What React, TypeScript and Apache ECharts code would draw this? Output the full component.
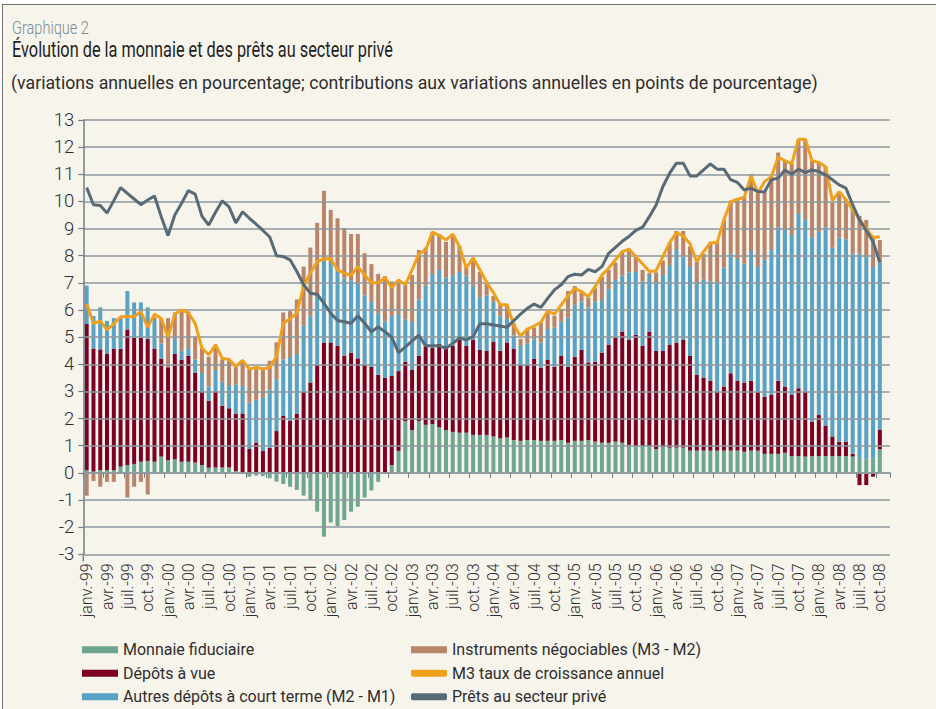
import React, { useEffect, useRef } from 'react';
import * as echarts from 'echarts';

// ---------- categories ----------
const MONTHS = ['janv.', 'févr.', 'mars', 'avr.', 'mai', 'juin', 'juil.', 'août', 'sept.', 'oct.', 'nov.', 'déc.'];
const YEARS = ['99', '00', '01', '02', '03', '04', '05', '06', '07', '08'];
const ALL_MONTHS: string[] = [];
YEARS.forEach((y) => MONTHS.forEach((m) => ALL_MONTHS.push(`${m}-${y}`)));
// janv.-99 .. nov.-08 (last slot left empty, as in the reference)
const CATEGORIES = ALL_MONTHS.slice(0, 119);

// ---------- series (contributions, percentage points) ----------
const MONNAIE_FIDUCIAIRE = [
  0.10, 0.05, 0.10, 0.10, 0.10, 0.23, 0.29, 0.33, 0.41, 0.44, 0.41, 0.60,
  0.47, 0.50, 0.41, 0.41, 0.38, 0.29, 0.19, 0.20, 0.20, 0.20, 0.07, 0.00,
  -0.14, -0.10, -0.12, -0.20, -0.32, -0.41, -0.51, -0.63, -0.84, -1.00, -1.43, -2.35,
  -1.83, -1.96, -1.74, -1.43, -1.25, -0.91, -0.65, -0.33, 0.00, 0.29, 0.81, 1.91,
  1.58, 1.91, 1.77, 1.80, 1.68, 1.58, 1.51, 1.48, 1.48, 1.40, 1.40, 1.40,
  1.34, 1.27, 1.31, 1.21, 1.18, 1.21, 1.21, 1.18, 1.18, 1.18, 1.21, 1.11,
  1.18, 1.18, 1.21, 1.15, 1.11, 1.11, 1.15, 1.11, 1.03, 0.99, 0.99, 0.99,
  0.88, 0.96, 0.93, 0.93, 0.93, 0.82, 0.82, 0.82, 0.82, 0.82, 0.82, 0.82,
  0.82, 0.78, 0.82, 0.82, 0.70, 0.70, 0.70, 0.74, 0.62, 0.62, 0.60, 0.62,
  0.62, 0.62, 0.62, 0.62, 0.62, 0.60, 0.51, 0.50, 0.54, 0.87,
];
const DEPOTS_A_VUE = [
  5.38, 4.53, 4.45, 4.30, 4.48, 4.34, 4.99, 4.65, 4.57, 4.49, 4.17, 3.61,
  3.42, 3.88, 3.75, 3.90, 3.30, 2.69, 2.47, 2.78, 2.27, 2.18, 2.10, 2.19,
  0.88, 1.12, 0.81, 0.92, 1.54, 2.10, 1.91, 2.17, 2.98, 3.33, 3.98, 4.80,
  4.80, 4.68, 4.31, 4.43, 4.22, 3.98, 3.90, 3.61, 3.51, 3.28, 2.94, 2.18,
  2.21, 2.40, 2.89, 2.80, 3.07, 3.10, 3.17, 3.42, 3.20, 3.50, 3.13, 3.09,
  3.48, 3.23, 3.49, 3.37, 2.80, 2.77, 2.99, 2.70, 2.98, 2.73, 3.10, 2.80,
  3.10, 3.35, 2.86, 2.94, 3.32, 3.60, 3.83, 4.09, 3.87, 4.09, 3.69, 4.21,
  3.61, 3.53, 3.78, 3.87, 3.97, 3.49, 2.79, 2.69, 2.57, 2.17, 2.36, 2.85,
  2.57, 2.55, 2.57, 2.17, 2.11, 2.17, 2.69, 2.44, 2.25, 2.50, 2.38, 1.27,
  1.51, 1.11, 0.72, 0.53, 0.53, 0.10, -0.45, -0.45, -0.14, 0.71,
];
const AUTRES_DEPOTS = [
  1.42, 1.20, 1.55, 1.20, 1.12, 1.10, 1.42, 1.30, 1.30, 1.17, 1.05, 0.56,
  0.00, 0.55, 0.34, 0.29, 0.50, 0.70, 0.52, 0.81, 0.89, 0.82, 1.09, 1.01,
  1.71, 1.57, 1.98, 2.16, 1.91, 2.08, 2.36, 2.21, 2.45, 2.46, 2.51, 3.02,
  2.97, 2.80, 2.85, 2.66, 2.74, 2.56, 2.40, 2.27, 2.07, 2.22, 2.10, 1.57,
  1.77, 2.08, 2.24, 2.72, 2.73, 2.51, 2.60, 2.50, 2.59, 1.99, 1.94, 2.04,
  1.49, 1.29, 0.87, 0.48, 0.70, 0.80, 0.72, 0.92, 1.14, 1.45, 1.26, 1.81,
  1.91, 1.78, 2.02, 2.22, 1.94, 2.07, 2.13, 2.07, 2.49, 2.32, 2.38, 2.09,
  2.50, 2.80, 2.95, 3.41, 3.07, 3.27, 3.38, 3.62, 3.67, 4.00, 4.38, 4.42,
  4.49, 4.37, 4.78, 4.59, 5.04, 5.34, 5.66, 5.77, 5.90, 6.44, 6.36, 6.79,
  6.75, 7.32, 6.96, 7.52, 7.46, 7.37, 7.56, 7.47, 7.04, 6.17,
];
const INSTRUMENTS_NEGOCIABLES = [
  -0.84, -0.30, -0.51, -0.33, -0.33, 0.05, -0.91, -0.51, -0.33, -0.80, 0.10, 0.92,
  1.81, 0.98, 1.53, 1.34, 0.84, 0.91, 1.10, 0.86, 0.82, 0.94, 0.68, 0.90,
  1.23, 1.13, 1.09, 1.05, 1.36, 1.73, 1.69, 2.01, 2.17, 2.51, 2.72, 2.57,
  1.92, 1.90, 1.86, 1.71, 1.84, 1.55, 1.39, 1.45, 1.67, 1.26, 1.15, 1.26,
  1.73, 1.82, 1.40, 1.55, 1.32, 1.32, 1.51, 0.96, 0.39, 1.01, 0.93, 0.46,
  0.21, 0.42, 0.52, 0.45, 0.26, 0.52, 0.43, 0.75, 0.64, 0.43, 0.47, 0.98,
  0.69, 0.33, 0.36, 0.49, 0.86, 0.70, 0.64, 0.85, 0.85, 0.57, 0.42, 0.07,
  0.40, 0.53, 0.82, 0.70, 0.94, 0.76, 0.79, 0.94, 1.38, 1.49, 1.76, 1.94,
  2.24, 2.50, 2.84, 2.72, 2.51, 2.70, 2.75, 2.55, 2.61, 2.73, 2.95, 2.82,
  2.55, 2.23, 1.66, 1.66, 1.47, 1.62, 1.40, 1.35, 1.12, 0.83,
];
const M3_CROISSANCE = [
  6.22, 5.50, 5.60, 5.27, 5.50, 5.75, 5.76, 5.76, 5.94, 5.37, 5.85, 5.69,
  5.00, 5.85, 6.00, 5.90, 5.50, 4.60, 4.35, 4.72, 4.22, 4.18, 3.92, 4.14,
  3.82, 3.89, 3.82, 3.89, 4.28, 5.51, 5.68, 5.88, 6.88, 7.36, 7.79, 7.88,
  7.90, 7.47, 7.36, 7.28, 7.60, 7.29, 7.00, 7.00, 7.19, 6.82, 7.11, 6.93,
  7.48, 8.07, 8.21, 8.87, 8.75, 8.58, 8.80, 8.33, 7.54, 7.93, 7.48, 7.02,
  6.64, 6.19, 6.19, 5.45, 5.04, 5.30, 5.41, 5.55, 5.96, 5.85, 6.19, 6.52,
  6.80, 6.68, 6.49, 6.86, 7.29, 7.54, 7.85, 8.15, 8.24, 7.97, 7.70, 7.42,
  7.45, 7.97, 8.48, 8.85, 8.73, 8.44, 7.78, 8.15, 8.48, 8.48, 9.32, 9.99,
  10.08, 10.15, 10.94, 10.30, 10.73, 10.91, 11.63, 11.50, 11.38, 12.29, 12.29, 11.50,
  11.44, 11.28, 10.03, 10.36, 10.06, 9.69, 9.34, 9.00, 8.67, 8.70,
];
const PRETS_SECTEUR_PRIVE = [
  10.51, 9.88, 9.85, 9.57, 10.03, 10.51, 10.30, 10.09, 9.88, 10.05, 10.20, 9.44,
  8.74, 9.50, 9.93, 10.40, 10.27, 9.46, 9.13, 9.60, 10.02, 9.80, 9.21, 9.62,
  9.38, 9.16, 8.93, 8.69, 8.00, 7.97, 7.85, 7.42, 6.93, 6.62, 6.58, 6.25,
  5.88, 5.61, 5.57, 5.51, 5.79, 5.51, 5.20, 5.37, 5.20, 5.00, 4.43, 4.63,
  4.86, 5.07, 4.68, 4.68, 4.68, 4.59, 4.77, 4.97, 4.90, 5.02, 5.49, 5.49,
  5.45, 5.41, 5.36, 5.61, 5.85, 6.06, 6.22, 6.10, 6.43, 6.74, 6.93, 7.23,
  7.32, 7.29, 7.50, 7.41, 7.60, 8.09, 8.31, 8.53, 8.71, 8.93, 9.05, 9.44,
  9.87, 10.55, 11.04, 11.41, 11.41, 10.94, 10.94, 11.16, 11.38, 11.19, 11.19, 10.80,
  10.70, 10.42, 10.49, 10.36, 10.36, 10.80, 10.86, 11.16, 11.00, 11.19, 11.06, 11.16,
  11.10, 10.98, 10.80, 10.61, 10.49, 9.87, 9.32, 8.93, 8.52, 7.75,
];

// ---------- texts ----------
const SURTITRE = 'Graphique 2';
const TITRE = 'Évolution de la monnaie et des prêts au secteur privé';
const SOUS_TITRE =
  '(variations annuelles en pourcentage; contributions aux variations annuelles en points de pourcentage)';
const NAMES = {
  fid: 'Monnaie fiduciaire',
  vue: 'Dépôts à vue',
  autres: 'Autres dépôts à court terme (M2 - M1)',
  instr: 'Instruments négociables (M3 - M2)',
  m3: 'M3 taux de croissance annuel',
  prets: 'Prêts au secteur privé',
};

// ---------- styles ----------
const FONT = 'Roboto, "Noto Sans", "DejaVu Sans", sans-serif';
const C_FID = '#6fa690';
const C_VUE = '#7c0024';
const C_AUTRES = '#58a2c6';
const C_INSTR = '#b8846a';
const C_M3 = '#efa01c';
const C_PRETS = '#586a76';
const C_GRID = '#8e999f';
const C_AXIS = '#6f7f89';
const C_TEXT = '#2e2e2e';

function fitScale(text: string, size: number, weight: string, target: number) {
  try {
    const ctx = document.createElement('canvas').getContext('2d');
    if (!ctx) return 1;
    ctx.font = `${weight} ${size}px Roboto`;
    const w = ctx.measureText(text).width;
    return w > 0 ? target / w : 1;
  } catch (e) {
    return 1;
  }
}

function buildOption() {
  const GRID_LEFT = 83.3;
  const GRID_TOP = 120;
  const GRID_W = 806.7;
  const GRID_H = 434.3;

  const barBase = {
    type: 'bar',
    stack: 'm3',
    barWidth: 4,
    xAxisIndex: 0,
    yAxisIndex: 0,
    z: 2,
  };

  const legendCommon = {
    orient: 'vertical',
    top: 638,
    padding: 0,
    itemGap: 0,
    itemWidth: 36,
    itemHeight: 7,
    selectedMode: false,
    textStyle: { fontFamily: FONT, fontSize: 16, fontWeight: 400, color: C_TEXT, lineHeight: 23.5 },
  };

  return {
    animation: false,
    backgroundColor: 'transparent',
    textStyle: { fontFamily: FONT },
    grid: { left: GRID_LEFT, top: GRID_TOP, width: GRID_W, height: GRID_H, containLabel: false },
    xAxis: [
      {
        type: 'category',
        data: CATEGORIES,
        position: 'bottom',
        boundaryGap: true,
        axisLine: { show: false, onZero: false },
        axisTick: { show: false },
        splitLine: { show: false },
        axisLabel: {
          interval: 2,
          rotate: 90,
          margin: 9,
          fontFamily: FONT,
          fontSize: 16,
          fontWeight: 300,
          color: C_TEXT,
        },
      },
      {
        type: 'category',
        data: CATEGORIES,
        position: 'bottom',
        boundaryGap: true,
        z: 3,
        axisLine: { show: true, onZero: true, lineStyle: { color: C_GRID, width: 1.5 } },
        axisTick: { show: true, interval: 2, length: 5, lineStyle: { color: C_AXIS, width: 1 } },
        axisLabel: { show: false },
        splitLine: { show: false },
      },
    ],
    yAxis: {
      type: 'value',
      min: -3,
      max: 13,
      interval: 1,
      z: 3,
      axisLine: { show: true, onZero: false, lineStyle: { color: C_AXIS, width: 1.5 } },
      axisTick: { show: true, length: 5, lineStyle: { color: C_AXIS, width: 1.2 } },
      axisLabel: { margin: 9, fontFamily: FONT, fontSize: 18.5, fontWeight: 300, color: C_TEXT },
      splitLine: { show: true, lineStyle: { color: C_GRID, width: 1.5 } },
    },
    legend: [
      {
        ...legendCommon,
        left: 82,
        data: [
          { name: NAMES.fid, icon: 'rect' },
          { name: NAMES.vue, icon: 'rect' },
          { name: NAMES.autres, icon: 'rect' },
        ],
      },
      {
        ...legendCommon,
        left: 411,
        data: [
          { name: NAMES.instr, icon: 'rect' },
          { name: NAMES.m3, icon: 'roundRect' },
          { name: NAMES.prets, icon: 'roundRect' },
        ],
      },
    ],
    graphic: [
      {
        type: 'text',
        x: 12,
        y: 28,
        scaleX: fitScale(SURTITRE, 17.5, '300', 77),
        z: 10,
        style: {
          text: SURTITRE,
          fontFamily: 'Roboto',
          fontSize: 17.5,
          fontWeight: 300,
          fill: '#7a8c98',
          verticalAlign: 'middle',
        },
      },
      {
        type: 'text',
        x: 12,
        y: 50,
        scaleX: fitScale(TITRE, 22, '400', 381),
        z: 10,
        style: {
          text: TITRE,
          fontFamily: 'Roboto',
          fontSize: 22,
          fontWeight: 400,
          fill: '#1e1e1e',
          verticalAlign: 'middle',
        },
      },
      {
        type: 'text',
        x: 11,
        y: 82,
        scaleX: fitScale(SOUS_TITRE, 18.5, '400', 807),
        z: 10,
        style: {
          text: SOUS_TITRE,
          fontFamily: 'Roboto',
          fontSize: 18.5,
          fontWeight: 400,
          fill: C_TEXT,
          verticalAlign: 'middle',
        },
      },
      {
        type: 'line',
        z: 3,
        shape: { x1: GRID_LEFT, y1: GRID_TOP + GRID_H, x2: GRID_LEFT, y2: GRID_TOP + GRID_H + 7 },
        style: { stroke: C_AXIS, lineWidth: 1.5 },
      },
    ],
    series: [
      { ...barBase, name: NAMES.fid, data: MONNAIE_FIDUCIAIRE, itemStyle: { color: C_FID } },
      { ...barBase, name: NAMES.vue, data: DEPOTS_A_VUE, itemStyle: { color: C_VUE } },
      { ...barBase, name: NAMES.autres, data: AUTRES_DEPOTS, itemStyle: { color: C_AUTRES } },
      { ...barBase, name: NAMES.instr, data: INSTRUMENTS_NEGOCIABLES, itemStyle: { color: C_INSTR } },
      {
        type: 'line',
        name: NAMES.m3,
        data: M3_CROISSANCE,
        xAxisIndex: 0,
        yAxisIndex: 0,
        symbol: 'none',
        showSymbol: false,
        z: 5,
        lineStyle: { color: C_M3, width: 3 },
        itemStyle: { color: C_M3 },
      },
      {
        type: 'line',
        name: NAMES.prets,
        data: PRETS_SECTEUR_PRIVE,
        xAxisIndex: 0,
        yAxisIndex: 0,
        symbol: 'none',
        showSymbol: false,
        z: 6,
        lineStyle: { color: C_PRETS, width: 3 },
        itemStyle: { color: C_PRETS },
      },
    ],
  };
}

export default function App() {
  const ref = useRef<HTMLDivElement>(null);
  useEffect(() => {
    if (!ref.current) return;
    const chart = echarts.init(ref.current, undefined, { renderer: 'svg', width: 936, height: 709 });
    chart.setOption(buildOption() as any);
    return () => chart.dispose();
  }, []);
  return (
    <div
      style={{
        position: 'fixed',
        left: 0,
        top: 0,
        width: 936,
        height: 709,
        background: '#ffffff',
        overflow: 'hidden',
      }}
    >
      <div
        style={{
          position: 'absolute',
          left: 2,
          top: 4,
          width: 960,
          height: 740,
          background: '#f7f4ec',
          borderLeft: '1.5px solid #707070',
          borderTop: '1.5px solid #707070',
        }}
      />
      <div ref={ref} style={{ position: 'absolute', left: 0, top: 0, width: 936, height: 709 }} />
    </div>
  );
}
